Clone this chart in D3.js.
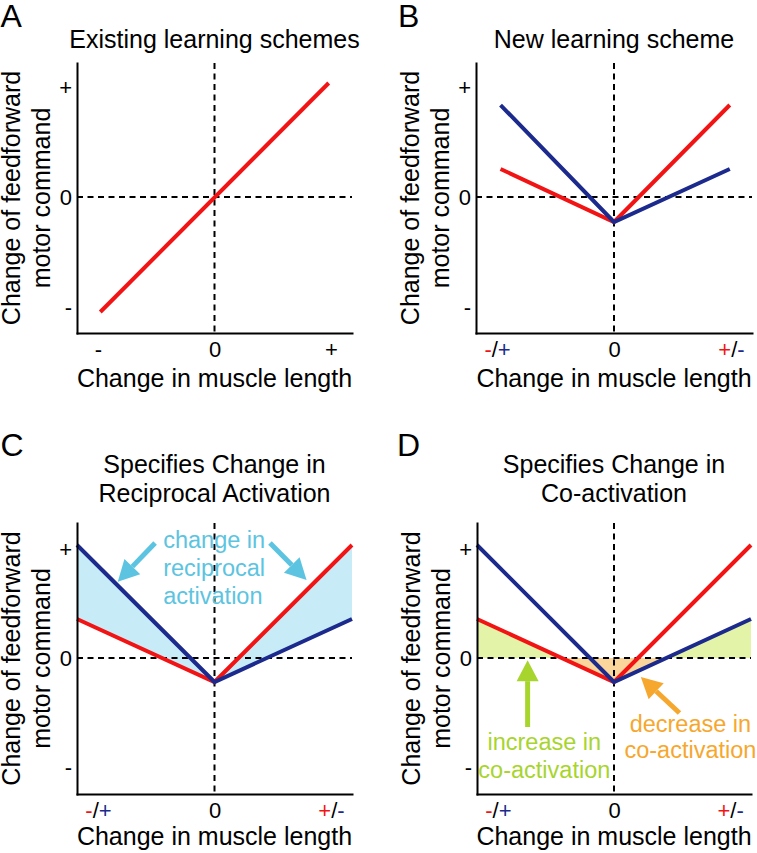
<!DOCTYPE html>
<html>
<head>
<meta charset="utf-8">
<script src="https://cdn.jsdelivr.net/npm/d3@7"></script>
<style>
  html, body { margin: 0; padding: 0; background: #fff; }
  svg { display: block; font-family: "Liberation Sans", Arial, Helvetica, sans-serif; }
</style>
</head>
<body>
<svg id="chart" width="757" height="853"></svg>
<script>
// ---------------- DATA ----------------
const panelLetters = ["A", "B", "C", "D"];
const panelTitles = [
  ["Existing learning schemes"],
  ["New learning scheme"],
  ["Specifies Change in", "Reciprocal Activation"],
  ["Specifies Change in", "Co-activation"]
];
const xAxisTitle = "Change in muscle length";
const yAxisTitle = ["Change of feedforward", "motor command"];

const tickValues = [-1, 0, 1];
const yTickLabels = ["-", "0", "+"];
const xTickLabelsA = ["-", "0", "+"];
const xTickLabelsMixed = ["-/+", "0", "+/-"];

// Panel A: single (existing) scheme
const aX = [-0.98, 0.98];
const aRed = [-1.045, 1.036];

// Panel B: new scheme (agonist red, antagonist blue)
const bX = [-0.97, 0, 0.99];
const bRed = [0.255, -0.227, 0.836];
const bBlue = [0.836, -0.227, 0.255];

// Panels C and D: same scheme over the full axis range
const cdX = [-1.18, 0, 1.18];
const cdRed = [0.358, -0.22, 1.037];
const cdBlue = [1.037, -0.22, 0.358];

// annotations (data units)
const cLabel = ["change in", "reciprocal", "activation"];
const cLabelPos = [-0.44, 1.01];
const cArrows = [
  { from: [-0.51, 1.055], to: [-0.83, 0.70] },
  { from: [0.476, 1.055], to: [0.79, 0.716] }
];
const dIncLabel = ["increase in", "co-activation"];
const dIncPos = [-0.60, -0.844];
const dIncArrow = { from: [-0.744, -0.633], to: [-0.744, -0.02] };
const dDecLabel = ["decrease in", "co-activation"];
const dDecPos = [0.658, -0.68];
const dDecArrow = { from: [0.564, -0.505], to: [0.231, -0.174] };

// ---------------- STYLE / LAYOUT ----------------
const RED = "#f21414", BLUE = "#1b2a8c", BLACK = "#000";
const FILL_BLUE = "#c7ebf7", FILL_GREEN = "#e3f4a8", FILL_ORANGE = "#fbd69c";
const TXT_CYAN = "#5cc4e0", TXT_GREEN = "#a8d42e", TXT_ORANGE = "#f6a72e";

const layouts = [
  { xr: [77, 352], yr: [333, 63], yd: [-1.236, 1.218], letter: [0.5, 27], titleY: [48], xTitleY: 387 },
  { xr: [476, 752], yr: [333, 63], yd: [-1.236, 1.218], letter: [398, 27], titleY: [48], xTitleY: 387 },
  { xr: [77, 352], yr: [794, 523], yd: [-1.248, 1.239], letter: [0.5, 456], titleY: [473, 502], xTitleY: 845 },
  { xr: [477, 751], yr: [794, 523], yd: [-1.248, 1.239], letter: [397, 456], titleY: [473, 502], xTitleY: 845 }
];
const xDomain = [-1.18, 1.18];

const svg = d3.select("#chart");
const defs = svg.append("defs");

function arrow(g, x, y, a, color) {
  const x1 = x(a.from[0]), y1 = y(a.from[1]);
  const x2 = x(a.to[0]), y2 = y(a.to[1]);
  const ang = Math.atan2(y2 - y1, x2 - x1);
  const hl = 21, hw = 11;
  const bx = x2 - hl * Math.cos(ang), by = y2 - hl * Math.sin(ang);
  g.append("line").attr("x1", x1).attr("y1", y1).attr("x2", bx).attr("y2", by)
    .attr("stroke", color).attr("stroke-width", 5);
  const px = -Math.sin(ang) * hw, py = Math.cos(ang) * hw;
  g.append("path")
    .attr("d", `M${x2},${y2}L${bx + px},${by + py}L${bx - px},${by - py}Z`)
    .attr("fill", color);
}

function multiText(g, lines, xPos, yPos, anchor, color, size, lh) {
  const t = g.append("text").attr("x", xPos).attr("y", yPos)
    .attr("text-anchor", anchor).attr("fill", color).attr("font-size", size);
  lines.forEach((s, i) => {
    t.append("tspan").attr("x", xPos).attr("dy", i === 0 ? 0 : lh).text(s);
  });
  return t;
}

layouts.forEach((L, p) => {
  const g = svg.append("g");
  const x = d3.scaleLinear().domain(xDomain).range(L.xr);
  const y = d3.scaleLinear().domain(L.yd).range(L.yr);
  const xc = x(0);

  // panel letter
  g.append("text").attr("x", L.letter[0]).attr("y", L.letter[1])
    .attr("font-size", 32).text(panelLetters[p]);
  // title
  panelTitles[p].forEach((s, i) => {
    g.append("text").attr("x", xc).attr("y", L.titleY[i])
      .attr("text-anchor", "middle").attr("font-size", 25).text(s);
  });

  // fills
  if (p === 2) {
    const area = d3.area()
      .x((d, i) => x(cdX[i]))
      .y0((d, i) => y(cdRed[i]))
      .y1((d, i) => y(cdBlue[i]));
    g.append("path").datum(cdX).attr("d", area).attr("fill", FILL_BLUE);
  }
  if (p === 3) {
    const minv = cdX.map((d, i) => Math.min(cdRed[i], cdBlue[i]));
    const area = d3.area()
      .x((d, i) => x(cdX[i]))
      .y0(() => y(0))
      .y1((d, i) => y(minv[i]));
    const idA = "clipAbove", idB = "clipBelow";
    defs.append("clipPath").attr("id", idA).append("rect")
      .attr("x", L.xr[0]).attr("y", L.yr[1]).attr("width", L.xr[1] - L.xr[0]).attr("height", y(0) - L.yr[1]);
    defs.append("clipPath").attr("id", idB).append("rect")
      .attr("x", L.xr[0]).attr("y", y(0)).attr("width", L.xr[1] - L.xr[0]).attr("height", L.yr[0] - y(0));
    g.append("path").datum(cdX).attr("d", area).attr("fill", FILL_GREEN).attr("clip-path", `url(#${idA})`);
    g.append("path").datum(cdX).attr("d", area).attr("fill", FILL_ORANGE).attr("clip-path", `url(#${idB})`);
  }

  // dashed zero lines
  g.append("line").attr("x1", xc).attr("x2", xc).attr("y1", L.yr[1]).attr("y2", L.yr[0])
    .attr("stroke", BLACK).attr("stroke-width", 2).attr("stroke-dasharray", "6,4.5");
  g.append("line").attr("x1", L.xr[0]).attr("x2", L.xr[1]).attr("y1", y(0)).attr("y2", y(0))
    .attr("stroke", BLACK).attr("stroke-width", 2).attr("stroke-dasharray", "6,4.5");

  // lines
  const line = (xs, ys) => d3.line().x((d, i) => x(xs[i])).y((d, i) => y(ys[i]))(xs);
  const drawLine = (xs, ys, c) => g.append("path").attr("d", line(xs, ys))
    .attr("fill", "none").attr("stroke", c).attr("stroke-width", 4).attr("stroke-linejoin", "miter");
  if (p === 0) drawLine(aX, aRed, RED);
  if (p === 1) { drawLine(bX, bRed, RED); drawLine(bX, bBlue, BLUE); }
  if (p >= 2) { drawLine(cdX, cdRed, RED); drawLine(cdX, cdBlue, BLUE); }

  // axes
  const xAxis = d3.axisBottom(x).tickValues(tickValues).tickSize(0).tickPadding(8)
    .tickFormat((d, i) => (p === 0 ? xTickLabelsA : xTickLabelsMixed)[i]);
  const yAxis = d3.axisLeft(y).tickValues(tickValues).tickSize(0).tickPadding(5)
    .tickFormat((d, i) => yTickLabels[i]);
  const gx = g.append("g").attr("transform", `translate(0,${L.yr[0]})`).call(xAxis);
  const gy = g.append("g").attr("transform", `translate(${L.xr[0]},0)`).call(yAxis);
  [gx, gy].forEach(a => {
    a.attr("font-family", null).attr("font-size", 22);
    a.select(".domain").attr("stroke", BLACK).attr("stroke-width", 2).attr("stroke-linecap", "square");
    a.selectAll("text").attr("font-size", 22).attr("fill", BLACK);
  });
  if (p > 0) {
    gx.selectAll(".tick text").each(function () {
      const s = d3.select(this).text();
      if (s.length === 3) {
        const el = d3.select(this).text(null);
        const cols = [RED, BLACK, BLUE];
        [...s].forEach((ch, k) => el.append("tspan").attr("fill", cols[k]).text(ch));
      }
    });
  }

  // axis titles
  g.append("text").attr("x", xc).attr("y", L.xTitleY).attr("text-anchor", "middle")
    .attr("font-size", 25).text(xAxisTitle);
  const yc = (L.yr[0] + L.yr[1]) / 2;
  [-57, -27].forEach((off, i) => {
    g.append("text").attr("transform", `translate(${L.xr[0] + off},${yc}) rotate(-90)`)
      .attr("text-anchor", "middle").attr("font-size", 25).text(yAxisTitle[i]);
  });

  // annotations
  if (p === 2) {
    cArrows.forEach(a => arrow(g, x, y, a, TXT_CYAN));
    multiText(g, cLabel, x(cLabelPos[0]), y(cLabelPos[1]), "start", TXT_CYAN, 23.5, 28);
  }
  if (p === 3) {
    arrow(g, x, y, dIncArrow, TXT_GREEN);
    arrow(g, x, y, dDecArrow, TXT_ORANGE);
    multiText(g, dIncLabel, x(dIncPos[0]), y(dIncPos[1]), "middle", TXT_GREEN, 23.5, 28);
    multiText(g, dDecLabel, x(dDecPos[0]), y(dDecPos[1]), "middle", TXT_ORANGE, 23.5, 26);
  }
});
</script>
</body>
</html>
